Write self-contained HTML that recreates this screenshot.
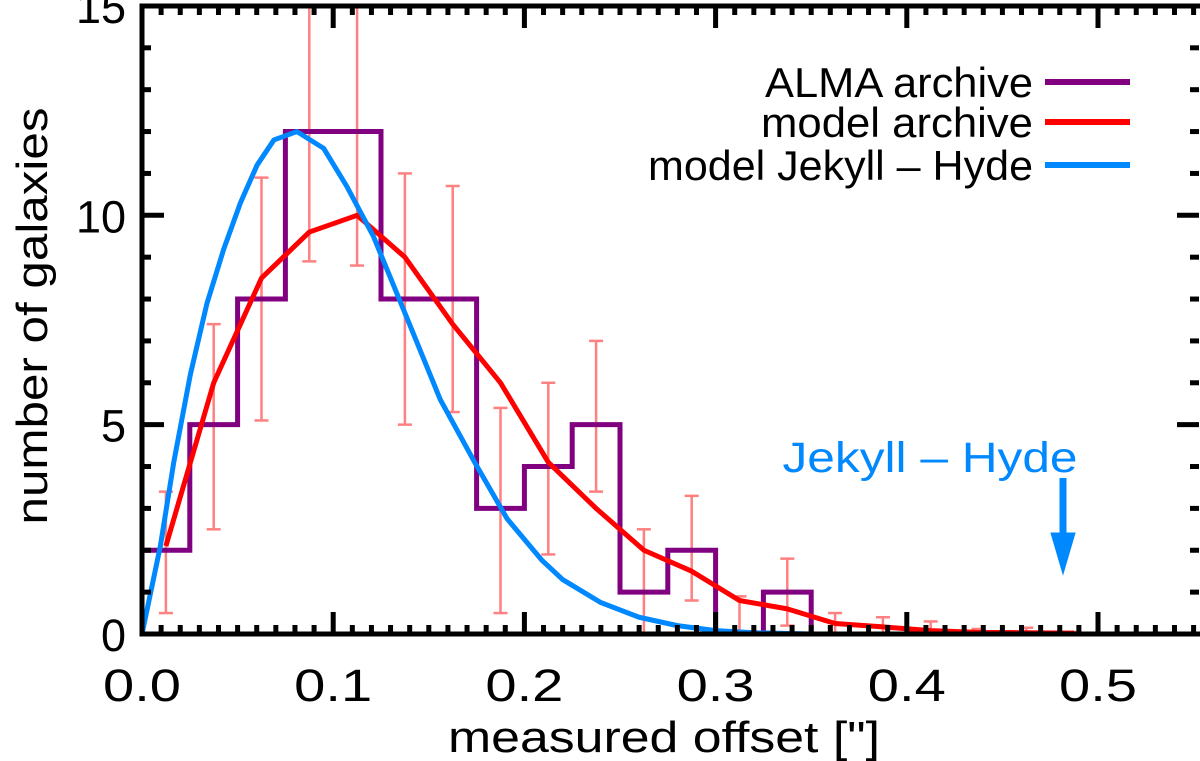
<!DOCTYPE html>
<html><head><meta charset="utf-8"><style>
body{margin:0;background:#fff}
svg{display:block;font-family:"Liberation Sans",sans-serif}
</style></head><body>
<svg id="c" width="1200" height="761"></svg>
<script>
const binEdges=[0,0.025,0.05,0.075,0.1,0.125,0.15,0.175,0.2,0.225,0.25,0.275,0.3,0.325,0.35];
const histCounts=[2,5,8,12,12,8,8,3,4,5,1,2,0,1];
const modelX=[0.0125,0.0375,0.0625,0.0875,0.1125,0.1375,0.1625,0.1875,0.2125,0.2375,0.2625,0.2875,0.3125,0.3375,0.3625,0.3875,0.4125,0.4375,0.4625,0.4875];
const modelY=[2.1,6.0,8.5,9.6,10.0,9.0,7.4,6.0,4.1,3.0,2.0,1.5,0.8,0.6,0.25,0.17,0.08,0.04,0.03,0.02];
const errLo=[0.5,2.5,5.1,8.9,8.8,5.0,5.3,0.5,1.9,3.4,0,0.8,0,0.2,0,0,0,0,0,0];
const errHi=[3.4,7.4,10.9,15.5,15.5,11.0,10.7,5.4,6.0,7.0,2.5,3.3,0.9,1.8,0.5,0.4,0.3,0.12,0.15,0.05];
const jhX=[0,0.0096,0.0166,0.0253,0.034,0.0428,0.0515,0.0602,0.069,0.081,0.095,0.107,0.121,0.139,0.156,0.174,0.191,0.209,0.22,0.24,0.26,0.28,0.3,0.32,0.35,0.55];
const jhY=[0,2.1,4.1,6.2,7.9,9.2,10.3,11.2,11.8,12.0,11.6,10.7,9.5,7.5,5.6,4.1,2.75,1.77,1.3,0.75,0.4,0.2,0.08,0.03,0,0];
const xTicks=[0,0.1,0.2,0.3,0.4,0.5];
const xTickLabels=["0.0","0.1","0.2","0.3","0.4","0.5"];
const yTicks=[0,5,10,15];
const yTickLabels=["0","5","10","15"];

const NS="http://www.w3.org/2000/svg";
const svg=document.getElementById('c');
const L=142,R=1199,T=6,B=634;
const X=v=>L+v*1912;
const Y=v=>Math.max(T,B-v*41.87);
function el(t,a,p){const e=document.createElementNS(NS,t);for(const k in a)e.setAttribute(k,a[k]);(p||svg).appendChild(e);return e;}

const eg=el('g',{});


modelX.forEach((x,i)=>{
  const g=el('g',{stroke:'#ff8080','stroke-width':2.5},eg);
  
  
  const px=X(x),y1=Y(errLo[i]),y2=Y(errHi[i]);
  el('line',{x1:px,x2:px,y1:y1,y2:y2},g);
  if(errLo[i]>0)el('line',{x1:px-7,x2:px+7,y1:y1,y2:y1},g);
  if(errHi[i]<15)el('line',{x1:px-7,x2:px+7,y1:y2,y2:y2},g);
});
let d='M'+X(binEdges[0])+','+Y(0);
histCounts.forEach((c,i)=>{d+=' L'+X(binEdges[i])+','+Y(c)+' L'+X(binEdges[i+1])+','+Y(c);});
d+=' L'+X(binEdges[binEdges.length-1])+','+Y(0);
const h=el('path',{d:d,fill:'none',stroke:'#800080','stroke-width':5});


const m=el('polyline',{points:modelX.map((x,i)=>X(x)+','+Y(modelY[i])).join(' '),fill:'none',stroke:'#ff0000','stroke-width':5,'stroke-linejoin':'round'});


const jh=el('polyline',{points:jhX.map((x,i)=>X(x)+','+Y(jhY[i])).join(' '),fill:'none',stroke:'#0088ff','stroke-width':5,'stroke-linejoin':'round'});



const fr=el('rect',{x:L,y:T,width:R-L+4,height:B-T,fill:'none',stroke:'#000','stroke-width':5});


const tg=el('g',{stroke:'#000','stroke-width':5});


for(let k=0;k<=55;k++){const px=X(k/100),len=k%10===0?22:9;
  el('line',{x1:px,x2:px,y1:B,y2:B-len},tg);el('line',{x1:px,x2:px,y1:T,y2:T+len},tg);}
for(let k=0;k<=15;k++){const py=B-k*41.87,len=k%5===0?22:9;
  el('line',{x1:L,x2:L+len,y1:py,y2:py},tg);el('line',{x1:R,x2:R-len,y1:py,y2:py},tg);}
xTicks.forEach((v,i)=>{const t=el('text',{x:X(v),y:701,'font-size':45,'text-anchor':'middle',textLength:78,lengthAdjust:'spacingAndGlyphs'});t.textContent=xTickLabels[i];
  });
yTicks.forEach((v,i)=>{const t=el('text',{x:126,y:B-v*41.87+17,'font-size':45,'text-anchor':'end'});t.textContent=yTickLabels[i];
  });
const xt=el('text',{x:664,y:752,'font-size':44,'text-anchor':'middle',textLength:432,lengthAdjust:'spacingAndGlyphs'});xt.textContent='measured offset ["]';

const yt=el('text',{x:0,y:0,'font-size':44,'text-anchor':'middle',textLength:417,lengthAdjust:'spacingAndGlyphs',transform:'translate(47,316) rotate(-90)'});yt.textContent='number of galaxies';


const leg=[['ALMA archive','#800080',82,268],['model archive','#ff0000',122,272],['model Jekyll \u2013 Hyde','#0088ff',165,385]];
leg.forEach(l=>{const g=el('g',{});
  const t=el('text',{x:1033,y:l[2]+15,'font-size':42,'text-anchor':'end',textLength:l[3],lengthAdjust:'spacingAndGlyphs'},g);t.textContent=l[0];
  el('line',{x1:1045,x2:1130,y1:l[2],y2:l[2],stroke:l[1],'stroke-width':6},g);});

const an=el('text',{x:930,y:472,'font-size':43,'text-anchor':'middle',fill:'#0088ff',textLength:295,lengthAdjust:'spacingAndGlyphs'});an.textContent='Jekyll \u2013 Hyde';

const ar=el('g',{fill:'#0088ff',stroke:'#0088ff'});

el('line',{x1:1063,x2:1063,y1:478,y2:540,'stroke-width':7},ar);
el('polygon',{points:'1051,533 1075,533 1063,574','stroke-width':1},ar);
</script>
</body></html>
